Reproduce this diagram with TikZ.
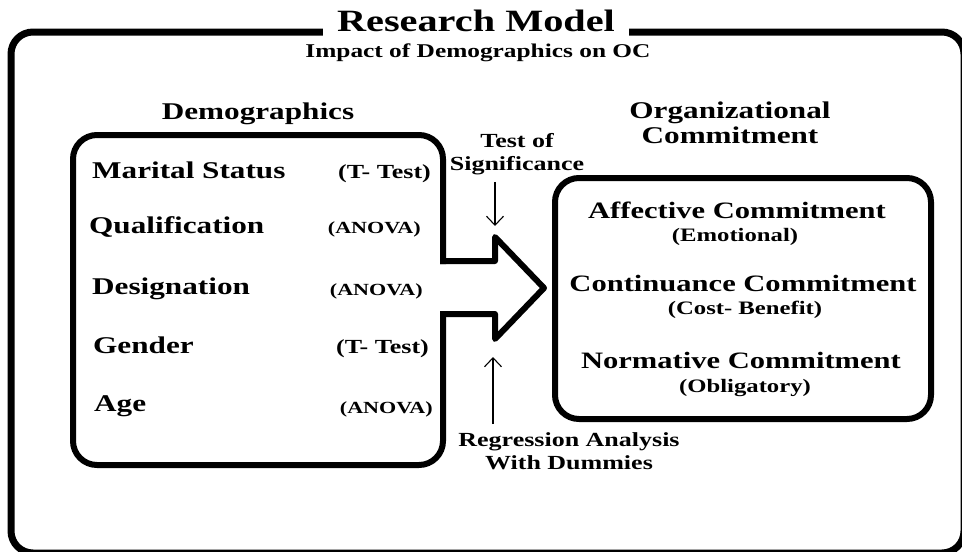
\documentclass[tikz,border=0pt]{standalone}
\usepackage{fontspec}
\setmainfont{Liberation Serif}[FakeStretch=1.3]
\usepackage{tikz}
\usetikzlibrary{arrows.meta}
\tikzset{
    outer-frame/.style = {draw=black, line width=7pt, rounded corners=22pt},
    model-box/.style = {draw=black, line width=6pt, rounded corners=24pt, line cap=rect},
    big-arrow/.style = {draw=black, line width=6pt, line join=round, line cap=rect},
    title-text/.style = {fill=white, font=\bfseries\fontsize{31}{33}\selectfont, inner xsep=14pt, inner ysep=8pt, anchor=base},
    subtitle-text/.style = {font=\bfseries\fontsize{19.5}{22}\selectfont, anchor=base},
    heading-text/.style = {font=\bfseries\fontsize{24}{25}\selectfont, align=center, anchor=base},
    item-text/.style = {font=\bfseries\fontsize{24}{26}\selectfont, anchor=base west, inner sep=0pt},
    ttest-text/.style = {font=\bfseries\fontsize{20}{22}\selectfont, anchor=base east, inner sep=0pt},
    anova-text/.style = {font=\bfseries\fontsize{17}{19}\selectfont, anchor=base east, inner sep=0pt},
    commit-text/.style = {font=\bfseries\fontsize{23.5}{25}\selectfont, anchor=base},
    commit-sub/.style = {font=\bfseries\fontsize{19}{20}\selectfont, anchor=base},
    method-text/.style = {font=\bfseries\fontsize{20}{22.5}\selectfont, align=center, anchor=base},
    thin-arrow/.style = {draw=black, line width=1.1pt, -{Straight Barb[length=9pt,width=17pt]}},
}

\begin{document}
\begin{tikzpicture}[x=1pt, y=-1pt]
\useasboundingbox (0,0) rectangle (962,552);
\clip (0,0) rectangle (962,552);

% outer frame and title
\draw[outer-frame] (11,32) rectangle (964,553);
\node[title-text] (title) at (476,31) {Research Model};
\node[subtitle-text] (subtitle) at (478,57) {Impact of Demographics on OC};

% headings (base = last line)
\node[heading-text] (demo-head) at (258,119) {Demographics};
\node[heading-text] (oc-head) at (730,143) {Organizational\\Commitment};

% demographics box, open on the right for the arrow
\draw[model-box] (443,261) -- (443,135) -- (73,135) -- (73,465) -- (443,465) -- (443,314);
\draw[big-arrow] (443,261) -- (495,261) -- (495,237) -- (544,288) -- (495,339) -- (495,314) -- (443,314);
\coordinate (sig-tip) at (495,226);
\coordinate (reg-tip) at (493,357);

\node[item-text] (marital) at (92,178) {Marital Status};
\node[ttest-text] (marital-test) at (431,178) {(T- Test)};
\node[item-text] (qualif) at (89,233) {Qualification};
\node[anova-text] (qualif-test) at (421,233) {(ANOVA)};
\node[item-text] (desig) at (92,294) {Designation};
\node[anova-text] (desig-test) at (423,295) {(ANOVA)};
\node[item-text] (gender) at (93,353) {Gender};
\node[ttest-text] (gender-test) at (429,353) {(T- Test)};
\node[item-text] (age) at (94,411) {Age};
\node[anova-text] (age-test) at (433,413) {(ANOVA)};

% commitment box
\draw[model-box] (555,178) rectangle (931,419);
\node[commit-text] (affective) at (737,218) {Affective Commitment};
\node[commit-sub] (affective-sub) at (735,241) {(Emotional)};
\node[commit-text] (continuance) at (743,291) {Continuance Commitment};
\node[commit-sub] (continuance-sub) at (745,314) {(Cost- Benefit)};
\node[commit-text] (normative) at (741,368) {Normative Commitment};
\node[commit-sub] (normative-sub) at (745,392) {(Obligatory)};

% methods
\node[method-text] (sig-label) at (517,170) {Test of\\Significance};
\node[method-text] (reg-label) at (569,469) {Regression Analysis\\With Dummies};
\draw[thin-arrow, shorten <=4pt] (sig-label.south -| sig-tip) -- (sig-tip);
\draw[thin-arrow, shorten <=5pt] (reg-label.north -| reg-tip) -- (reg-tip);
\end{tikzpicture}
\end{document}
